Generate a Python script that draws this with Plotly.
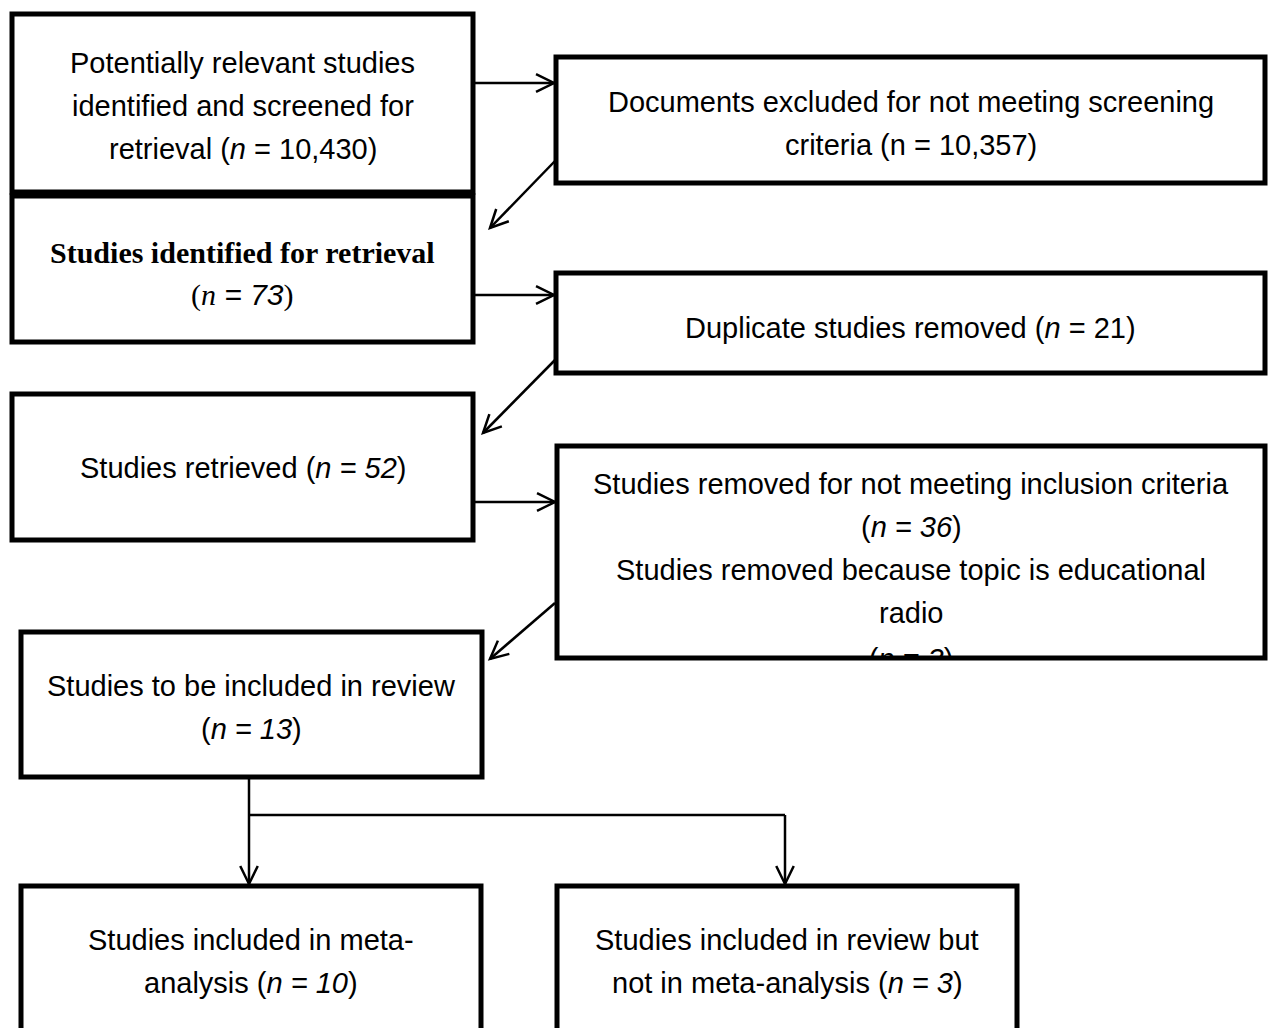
import math
import plotly.graph_objects as go

# ---------------- data ----------------
counts = {
    "screened": "10,430",
    "excluded": "10,357",
    "identified": "73",
    "duplicates": "21",
    "retrieved": "52",
    "not_inclusion": "36",
    "radio": "3",
    "to_include": "13",
    "meta": "10",
    "review_only": "3",
}

box_a_lines = ["Potentially relevant studies",
               "identified and screened for",
               f"retrieval (<i>n</i> = {counts['screened']})"]
box_b_lines = ["Documents excluded for not meeting screening",
               f"criteria (n = {counts['excluded']})"]
box_c_lines = ["Studies identified for retrieval",
               f"(<i>n</i><span style='font-family:Liberation Sans, Arial'><i> = {counts['identified']}</i></span>)"]
box_d_lines = [f"Duplicate studies removed (<i>n</i> = {counts['duplicates']})"]
box_e_lines = [f"Studies retrieved (<i>n = {counts['retrieved']}</i>)"]
box_f_lines = ["Studies removed for not meeting inclusion criteria",
               f"(<i>n = {counts['not_inclusion']}</i>)",
               "Studies removed because topic is educational",
               "radio"]
box_f_clipped = f"(<i>n = {counts['radio']}</i>)"
box_g_lines = ["Studies to be included in review",
               f"(<i>n = {counts['to_include']}</i>)"]
box_h_lines = ["Studies included in meta-",
               f"analysis (<i>n = {counts['meta']}</i>)"]
box_i_lines = ["Studies included in review but",
               f"not in meta-analysis (<i>n = {counts['review_only']}</i>)"]

# ---------------- layout (pixel geometry) ----------------
W, H = 1269, 1028
SANS = "Liberation Sans, Arial, sans-serif"
SERIF = "Liberation Serif, Times New Roman, serif"
FS = 29

boxes = [
    # x0, y0, x1, y1, lines, first line y, font family, font size
    (12, 14, 473, 192, box_a_lines, 63, SANS, FS),
    (556, 57, 1265, 183, box_b_lines, 102, SANS, FS),
    (12, 196, 473, 342, box_c_lines, 252, SERIF, 30),
    (556, 273, 1265, 373, box_d_lines, 328, SANS, FS),
    (12, 394, 473, 540, box_e_lines, 468, SANS, FS),
    (557, 446, 1265, 658, box_f_lines, 484, SANS, FS),
    (21, 632, 482, 777, box_g_lines, 686, SANS, FS),
    (21, 886, 481, 1060, box_h_lines, 940, SANS, FS),
    (557, 886, 1017, 1060, box_i_lines, 940, SANS, FS),
]
LINE_GAP = 43
CLIPPED_Y = 662

arrows = [
    # x0, y0, x1, y1, arrowhead
    (475, 83, 554, 83, True),
    (555, 161, 490, 228, True),
    (475, 295, 554, 295, True),
    (555, 360, 483, 433, True),
    (475, 502, 555, 502, True),
    (555, 603, 490, 659, True),
    (249, 778, 249, 884, True),
    (249, 815, 785, 815, False),
    (785, 815, 785, 884, True),
]

fig = go.Figure()
shapes = []
annotations = []

def head_path(x0, y0, x1, y1, L=20, ang=26):
    dx, dy = x1 - x0, y1 - y0
    d = math.hypot(dx, dy)
    bx, by = -dx / d, -dy / d
    pts = []
    for s in (1, -1):
        a = math.radians(ang * s)
        rx = bx * math.cos(a) - by * math.sin(a)
        ry = bx * math.sin(a) + by * math.cos(a)
        pts.append((x1 + L * rx, y1 + L * ry))
    return f"M {pts[0][0]:.2f},{pts[0][1]:.2f} L {x1},{y1} L {pts[1][0]:.2f},{pts[1][1]:.2f}"

for x0, y0, x1, y1, hd in arrows:
    shapes.append(dict(type="line", x0=x0, y0=y0, x1=x1, y1=y1,
                       line=dict(color="black", width=2.5), layer="above"))
    if hd:
        shapes.append(dict(type="path", path=head_path(x0, y0, x1, y1),
                           line=dict(color="black", width=2.5), layer="above"))

# clipped last line in box F (drawn as a trace so shapes can clip it)
fx0, fy0, fx1, fy1 = boxes[5][:4]
fig.add_trace(go.Scatter(x=[(fx0 + fx1) / 2], y=[CLIPPED_Y], mode="text",
                         text=[box_f_clipped], textposition="middle center",
                         textfont=dict(family=SANS, size=FS, color="black"),
                         hoverinfo="skip", showlegend=False))
shapes.append(dict(type="rect", x0=fx0 + 3, x1=fx1 - 3, y0=fy1, y1=fy1 + 30,
                   fillcolor="white", line=dict(width=0), layer="above"))

for x0, y0, x1, y1, lines, ty, fam, fs in boxes:
    shapes.append(dict(type="rect", x0=x0, y0=y0, x1=x1, y1=y1,
                       line=dict(color="black", width=5), fillcolor="rgba(0,0,0,0)",
                       layer="above"))
    cx = (x0 + x1) / 2
    for i, ln in enumerate(lines):
        if fam == SERIF and i == 0:
            ln = f"<b>{ln}</b>"
        annotations.append(dict(x=cx, y=ty + i * LINE_GAP, text=ln, showarrow=False,
                                xanchor="center", yanchor="middle",
                                font=dict(family=fam, size=fs, color="black")))

fig.update_layout(
    width=W, height=H,
    margin=dict(l=0, r=0, t=0, b=0),
    paper_bgcolor="white", plot_bgcolor="white",
    xaxis=dict(range=[0, W], visible=False, fixedrange=True),
    yaxis=dict(range=[H, 0], visible=False, fixedrange=True),
    shapes=shapes, annotations=annotations,
    showlegend=False,
)

fig.write_html("out.html", config={"displayModeBar": False},
               post_script="document.body.style.margin='0';document.body.style.overflow='hidden';")
